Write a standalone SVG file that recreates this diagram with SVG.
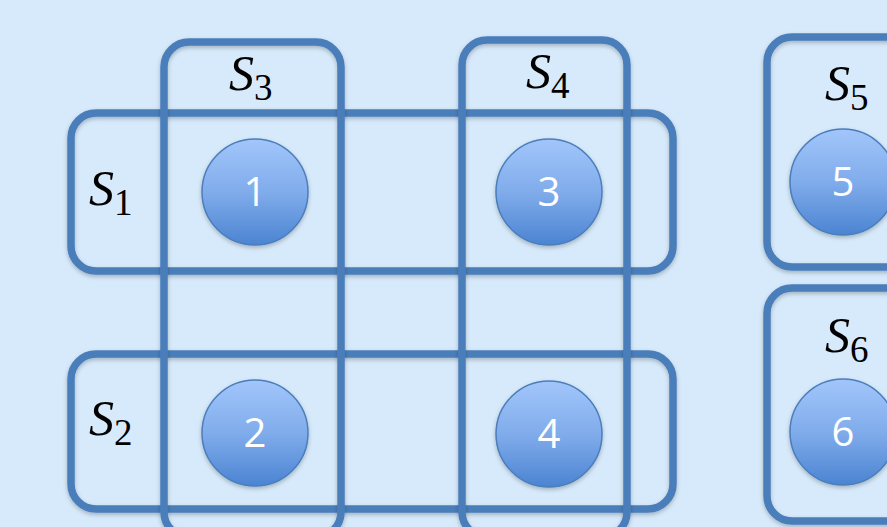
<svg xmlns="http://www.w3.org/2000/svg" width="887" height="527" viewBox="0 0 887 527">
<defs>
<linearGradient id="g" x1="0" y1="0" x2="0" y2="1">
<stop offset="0" stop-color="#a2c6fb"/>
<stop offset="0.5" stop-color="#80aceb"/>
<stop offset="1" stop-color="#4b84d2"/>
</linearGradient>
<filter id="sh" x="-20%" y="-20%" width="140%" height="140%">
<feDropShadow dx="0" dy="2" stdDeviation="2" flood-color="#000" flood-opacity="0.25"/>
</filter>
</defs>
<style>
.set{fill:none;stroke:#4a7ebb;stroke-width:7.5;filter:url(#sh)}
.node circle{fill:url(#g);stroke:#4a7ebb;stroke-width:1.5;filter:url(#sh)}
.node text{fill:#fff;font-family:"Open Sans",sans-serif;font-size:40px;text-anchor:middle}
.lbl{font-family:"Liberation Serif","DejaVu Serif",serif;font-style:italic;font-size:50px;fill:#000}
.sub{font-style:normal;font-size:37px}
</style>
<rect width="887" height="527" fill="#d7eafb"/>
<g id="sets">
<rect id="S1" class="set" x="71" y="113" width="602" height="158" rx="25"/>
<rect id="S2" class="set" x="71" y="354" width="602" height="155" rx="25"/>
<rect id="S3" class="set" x="164" y="42" width="177" height="495" rx="25"/>
<rect id="S4" class="set" x="462" y="40" width="165" height="497" rx="25"/>
<rect id="S5" class="set" x="767" y="37" width="160" height="230" rx="25"/>
<rect id="S6" class="set" x="767" y="288" width="160" height="233" rx="25"/>
</g>
<g id="labels">
<text class="lbl" x="89" y="205">S<tspan class="sub" dy="10">1</tspan></text>
<text class="lbl" x="89" y="435">S<tspan class="sub" dy="10">2</tspan></text>
<text class="lbl" x="229" y="90">S<tspan class="sub" dy="10">3</tspan></text>
<text class="lbl" x="526" y="88">S<tspan class="sub" dy="10">4</tspan></text>
<text class="lbl" x="825" y="100">S<tspan class="sub" dy="10">5</tspan></text>
<text class="lbl" x="825" y="352">S<tspan class="sub" dy="10">6</tspan></text>
</g>
<g id="n1" class="node"><circle cx="255" cy="192" r="53"/><text x="255" y="206">1</text></g>
<g id="n2" class="node"><circle cx="255" cy="433" r="53"/><text x="255" y="447">2</text></g>
<g id="n3" class="node"><circle cx="549" cy="192" r="53"/><text x="549" y="206">3</text></g>
<g id="n4" class="node"><circle cx="549" cy="434" r="53"/><text x="549" y="448">4</text></g>
<g id="n5" class="node"><circle cx="843" cy="182" r="53"/><text x="843" y="196">5</text></g>
<g id="n6" class="node"><circle cx="843" cy="432" r="53"/><text x="843" y="446">6</text></g>
<g id="connectors"/>
</svg>
